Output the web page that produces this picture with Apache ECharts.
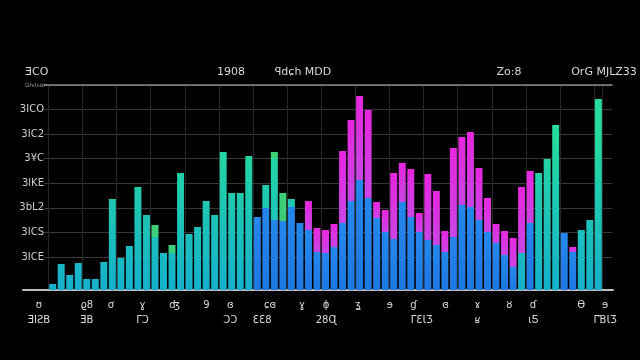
<!DOCTYPE html>
<html><head><meta charset="utf-8">
<script src="https://cdn.jsdelivr.net/npm/echarts@6/dist/echarts.min.js"></script>
<style>html,body{margin:0;padding:0;background:#000;}#c{width:640px;height:360px;}</style>
</head><body><div id="c"></div>
<script>
// ---- data ----
const categories = Array.from({length: 65}, (_, i) => 'B' + (i + 1));
const blueValues = [
  0,0,0,0,0,0,0,0,0,0,
  0,0,0,0,0,0,0,0,0,0,
  0,0,0,0,73,82,70,69,83,67,
  60,38,37,43,67,89,110,92,72,58,
  51,88,73,58,50,45,38,53,85,83,
  70,58,47,35,23,0,67,0,0,0,
  57,38,0,0,0
];
const tealValues = [
  6,26,15,27,11,11,28,91,32,44,
  103,75,53,37,37,117,56,63,89,75,
  138,97,97,134,0,23,62,0,8,0,
  0,0,0,0,0,0,0,0,0,0,
  0,0,0,0,0,0,0,0,0,0,
  0,0,0,0,0,37,0,117,131,165,
  0,0,60,70,191
];
const accentValues = [
  0,0,0,0,0,0,0,0,0,0,
  0,0,12,0,8,0,0,0,0,0,
  0,0,0,0,0,0,6,28,0,0,
  0,0,0,0,0,0,0,0,0,0,
  0,0,0,0,0,0,0,0,0,0,
  0,0,0,0,0,0,0,0,0,0,
  0,0,0,0,0
];
const magentaValues = [
  0,0,0,0,0,0,0,0,0,0,
  0,0,0,0,0,0,0,0,0,0,
  0,0,0,0,0,0,0,0,0,0,
  29,24,23,23,72,81,84,88,16,22,
  66,39,48,19,66,54,21,89,68,75,
  52,34,19,24,29,66,52,0,0,0,
  0,5,0,0,0
];
const yTickLabels = ['3ICE', '3ICS', '3bL2', '3lKE', '3¥C', '3IC2', '3ICO'];
const xTickTop = [
  '', '', 'ʊ', '', '', '', '', '', 'ϱ8', '',
  '', 'ơ', '', '', '', 'ɣ', '', '', '', 'ʤ',
  '', '', '', '9', '', '', 'ɞ', '', '', '',
  '', 'ɕɞ', '', '', '', 'ɣ', '', '', 'ɸ', '',
  '', '', 'ʓ', '', '', '', 'ɘ', '', '', 'ɠ',
  '', '', '', 'ɞ', '', '', '', 'ɤ', '', '',
  '', 'ȣ', '', '', 'ɗ', '', '', '', '', '',
  'Ɵ', '', '', 'ɘ', ''
];
const xTickBottom = [
  '', '', 'ƎIƧB', '', '', '', '', '', 'ƎB', '',
  '', '', '', '', '', 'ΓϽ', '', '', '', '',
  '', '', '', '', '', '', 'ƆƆ', '', '', '',
  'ƐƐ8', '', '', '', '', '', '', '', '28Ɋ', '',
  '', '', '', '', '', '', '', '', '', '',
  'ΓƐƖƷ', '', '', '', '', '', '', 'ʁ', '', '',
  '', '', '', '', 'ɩƼ', '', '', '', '', '',
  '', '', '', 'ΓƁƖƷ', ''
];
const headerTexts = ['ƎCO', '1908', 'ꟼdɕh MDD', 'Zo:8', 'OrG MJLZ33'];
const cornerNote = 'Divisor';

// ---- chart ----
const chart = echarts.init(document.getElementById('c'));
const FONT = 'DejaVu Sans';
const tealGrad = new echarts.graphic.LinearGradient(0, 130, 0, 290,
  [{offset: 0, color: '#26dc9c'}, {offset: 1, color: '#15b0cc'}], true);
const blueGrad = new echarts.graphic.LinearGradient(0, 0, 0, 1,
  [{offset: 0, color: '#2587ec'}, {offset: 1, color: '#1d78e2'}]);
const magGrad = new echarts.graphic.LinearGradient(0, 0, 0, 1,
  [{offset: 0, color: '#e626de'}, {offset: 1, color: '#c846e4'}]);

const barBase = {type: 'bar', stack: 'total', xAxisIndex: 0, yAxisIndex: 0, barCategoryGap: '18%'};
const headerX = [25, 231, 303, 509, 604];

chart.setOption({
  animation: false,
  backgroundColor: '#000',
  grid: [
    {left: 48.4, right: 37.4, top: 85, bottom: 70},
    {left: 44, right: 28, top: 85, bottom: 103},
    {left: 23, right: 27, top: 85, bottom: 70}
  ],
  xAxis: [
    {type: 'category', gridIndex: 0, data: categories,
     axisLine: {show: false}, axisTick: {show: false}, axisLabel: {show: false},
     splitLine: {show: true, lineStyle: {color: '#262626', width: 1}}},
    {type: 'category', gridIndex: 1, position: 'top', data: ['t'],
     axisLine: {show: true, onZero: false, lineStyle: {color: '#8a8a8a', width: 1.5}},
     axisTick: {show: false}, axisLabel: {show: false}, splitLine: {show: false}},
    {type: 'category', gridIndex: 2, boundaryGap: false,
     data: xTickTop.map((_, i) => String(i)),
     axisLine: {show: true, onZero: false, lineStyle: {color: '#bdbdbd', width: 2}},
     axisTick: {show: false}, splitLine: {show: false},
     axisLabel: {interval: 0, color: '#dcdcdc', fontSize: 10, fontFamily: FONT, lineHeight: 15, margin: 8,
       formatter: (v, i) => {
         const t = xTickTop[i], b = xTickBottom[i];
         if (!t && !b) return '';
         return (t || ' ') + (b ? '\n' + b : '');
       }}}
  ],
  yAxis: [
    {type: 'value', gridIndex: 0, min: 0, max: 205, show: false},
    {type: 'value', gridIndex: 1, min: 0, max: 7, interval: 1,
     axisLine: {show: false}, axisTick: {show: false},
     splitLine: {show: true, lineStyle: {color: '#383838', width: 1}},
     axisLabel: {formatter: v => yTickLabels[v] || '', color: '#d0d0d0', fontSize: 10, fontFamily: FONT, margin: 0}},
    {type: 'value', gridIndex: 2, show: false, min: 0, max: 1}
  ],
  graphic: headerTexts.map((t, i) => ({
    type: 'text', x: headerX[i], y: 72,
    style: {text: t, fill: '#d8d8d8', fontSize: 11, fontFamily: FONT,
            align: i === 0 ? 'left' : 'center', verticalAlign: 'middle'}
  })).concat([{
    type: 'text', x: 25, y: 85,
    style: {text: cornerNote, fill: '#9a9a9a', fontSize: 6, fontFamily: FONT, align: 'left', verticalAlign: 'middle'}
  }]),
  series: [
    Object.assign({name: 'Blue', data: blueValues, itemStyle: {color: blueGrad}}, barBase),
    Object.assign({name: 'Teal', data: tealValues, itemStyle: {color: tealGrad}}, barBase),
    Object.assign({name: 'Accent', data: accentValues, itemStyle: {color: '#3ccf78'}}, barBase),
    Object.assign({name: 'Magenta', data: magentaValues, itemStyle: {color: magGrad}}, barBase)
  ]
});
</script>
</body></html>
